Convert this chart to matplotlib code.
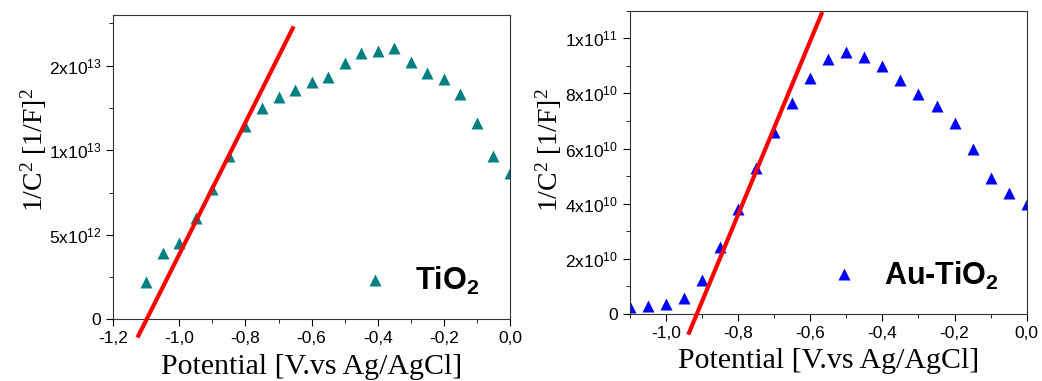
import numpy as np
import matplotlib
matplotlib.use("Agg")
import matplotlib.pyplot as plt
from matplotlib.ticker import FixedLocator, FixedFormatter, MultipleLocator, FuncFormatter

plt.rcParams.update({
    "font.family": "sans-serif",
    "font.sans-serif": ["Liberation Sans", "Arial", "DejaVu Sans"],
    "mathtext.default": "regular",
    "xtick.direction": "out", "ytick.direction": "out",
    "xtick.major.size": 5, "ytick.major.size": 5,
    "xtick.minor.size": 3, "ytick.minor.size": 3,
    "xtick.labelsize": 12.5, "ytick.labelsize": 12.5,
})

# Mott-Schottky data, potential in V vs Ag/AgCl
pot_tio2 = [-1.10, -1.05, -1.00, -0.95, -0.90, -0.85, -0.80, -0.75, -0.70, -0.65, -0.60, -0.55,
            -0.50, -0.45, -0.40, -0.35, -0.30, -0.25, -0.20, -0.15, -0.10, -0.05, 0.00]
invc2_tio2 = [2.22e12, 3.91e12, 4.53e12, 5.99e12, 7.69e12, 9.68e12, 11.44e12, 12.52e12,
              13.17e12, 13.57e12, 14.04e12, 14.32e12, 15.15e12, 15.74e12, 15.88e12, 16.05e12,
              15.22e12, 14.59e12, 14.22e12, 13.35e12, 11.63e12, 9.66e12, 8.66e12]

pot_au = [-1.10, -1.05, -1.00, -0.95, -0.90, -0.85, -0.80, -0.75, -0.70, -0.65, -0.60, -0.55,
          -0.50, -0.45, -0.40, -0.35, -0.30, -0.25, -0.20, -0.15, -0.10, -0.05, 0.00]
invc2_au = [0.24e10, 0.29e10, 0.36e10, 0.59e10, 1.23e10, 2.42e10, 3.81e10, 5.31e10, 6.60e10,
            7.66e10, 8.55e10, 9.25e10, 9.49e10, 9.31e10, 8.99e10, 8.49e10, 7.99e10, 7.55e10,
            6.91e10, 5.98e10, 4.94e10, 4.40e10, 3.99e10]

# linear fits (end points of the drawn tangent)
fit_tio2_x = [-1.124, -0.657]
fit_tio2_y = [-0.97e12, 17.22e12]
fit_au_x = [-0.936, -0.569]
fit_au_y = [-0.68e10, 10.88e10]

ticks_tio2 = [0, 5e12, 1e13, 1.5e13]
labels_tio2 = ["0", r"5x10$^{12}$", r"1x10$^{13}$", r"2x10$^{13}$"]
ticks_au = [0, 2e10, 4e10, 6e10, 8e10, 1e11]
labels_au = ["0", r"2x10$^{10}$", r"4x10$^{10}$", r"6x10$^{10}$", r"8x10$^{10}$", r"1x10$^{11}$"]

TEAL = "#008080"
BLUE = "#0000ff"
RED = "#ff0000"
SERIF = ["Liberation Serif", "DejaVu Serif"]


def comma_fmt(v, pos):
    s = f"{v:.1f}".replace(".", ",")
    return "0,0" if s == "-0,0" else s


def panel(ax, x, y, fx, fy, color, label, xlim, ylim, yt, ytl, yminor, leg_anchor, ylab_xy):
    ax.plot(x, y, ls="none", marker="^", ms=8, color=color, label=label, mec="none")
    ax.plot(fx, fy, color=RED, lw=3, clip_on=False, zorder=4)
    ax.set_xlim(*xlim)
    ax.set_ylim(*ylim)
    ax.xaxis.set_major_locator(MultipleLocator(0.2))
    ax.xaxis.set_minor_locator(MultipleLocator(0.1))
    ax.xaxis.set_major_formatter(FuncFormatter(comma_fmt))
    ax.yaxis.set_major_locator(FixedLocator(yt))
    ax.yaxis.set_major_formatter(FixedFormatter(ytl))
    ax.yaxis.set_minor_locator(MultipleLocator(yminor))
    ax.tick_params(which="both", top=False, right=False)
    for sp in ax.spines.values():
        sp.set_color("#333333")
    ax.set_xlabel("Potential [V.vs Ag/AgCl]", family=SERIF, fontsize=21.5, labelpad=5.5)
    ax.set_ylabel(r"1/C$^{2}$ [1/F]$^{2}$", family=SERIF, fontsize=20)
    ax.yaxis.set_label_coords(*ylab_xy)
    ax.legend(loc="center right", bbox_to_anchor=leg_anchor, frameon=False,
              handlelength=1.0, handletextpad=0.8, borderaxespad=0,
              prop={"weight": "bold", "size": 22})


fig = plt.figure(figsize=(10.42, 3.81), dpi=100)
ax1 = fig.add_axes([0.1087, 0.1619, 0.3807, 0.7987])
ax2 = fig.add_axes([0.6045, 0.1759, 0.3808, 0.7960])

panel(ax1, pot_tio2, invc2_tio2, fit_tio2_x, fit_tio2_y, TEAL, r"TiO$_{2}$",
      (-1.2, 0.0), (0, 1.80e13), ticks_tio2, labels_tio2, 2.5e12, (0.953, 0.125),
      (-0.162, 0.556))
panel(ax2, pot_au, invc2_au, fit_au_x, fit_au_y, BLUE, r"Au-TiO$_{2}$",
      (-1.1, 0.0), (0, 1.10e11), ticks_au, labels_au, 1e10, (0.96, 0.125),
      (-0.167, 0.541))

fig.savefig("out.png", dpi=100)
